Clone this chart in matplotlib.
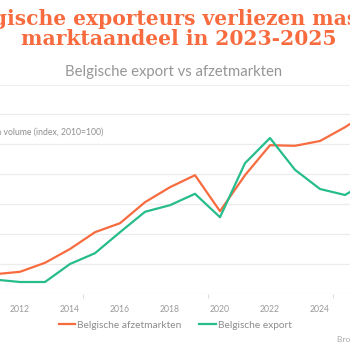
import matplotlib.pyplot as plt
from matplotlib.ticker import FixedLocator

# data (index, 2010=100)
years = [2010, 2011, 2012, 2013, 2014, 2015, 2016, 2017, 2018,
         2019, 2020, 2021, 2022, 2023, 2024, 2025, 2026]
afzetmarkten = [100, 103.3, 103.7, 105.2, 107.5, 110.3, 111.8, 115.3, 117.8,
                119.8, 113.8, 119.8, 124.8, 124.7, 125.5, 127.8, 130.5]
export = [100, 102.4, 102.0, 102.0, 105.0, 106.8, 110.3, 113.7, 114.8,
          116.7, 112.8, 121.8, 126.0, 120.7, 117.5, 116.5, 119.0]
xtick_years = [2010, 2012, 2014, 2016, 2018, 2020, 2022, 2024]
ygrid = [100, 105, 110, 115, 120, 125, 130]

ORANGE = "#F76B3F"
GREEN = "#27BC8C"
GREY = "#8c8c8c"

W, H = 350, 350
fig = plt.figure(figsize=(3.5, 3.5), dpi=100)

# axes extends past the left/right edges (the reference is a crop)
L, R, B, T = -40, 380, 294, 102
ax = fig.add_axes([L / W, 1 - B / H, (R - L) / W, (B - T) / H])
ax.set_xlim(2012 - (20 - L) / 25, 2012 + (R - 20) / 25)
ax.set_ylim(100, 132)

ax.plot(years, afzetmarkten, color=ORANGE, lw=1.6, label="Belgische afzetmarkten")
ax.plot(years, export, color=GREEN, lw=1.6, label="Belgische export")

for v in ygrid:
    ax.axhline(v, color="#ececec", lw=0.9, zorder=0)

for s in ax.spines.values():
    s.set_visible(False)
ax.set_yticks([])
ax.set_xticks(xtick_years)
ax.set_xticklabels([str(y) for y in xtick_years], family="Lato", fontsize=6.2, color="#9a9a9a")
ax.tick_params(axis="x", which="major", length=0, pad=8)
ax.xaxis.set_minor_locator(FixedLocator([2009.5, 2014.5, 2019.5, 2024.5]))
ax.tick_params(axis="x", which="minor", length=3, color="#dddddd", width=0.8)

ax.text(103 / W, 1 - 132 / H, "Groei in volume (index, 2010=100)", transform=fig.transFigure,
        ha="right", va="center", family="Lato", fontsize=6.2, color="#8f8f8f")

# titles
fig.text(179 / W, 1 - 19 / H, "Belgische exporteurs verliezen massaal", ha="center", va="center",
         family="DejaVu Serif", weight="bold", fontsize=14.6, color=ORANGE)
fig.text(179 / W, 1 - 39 / H, "marktaandeel in 2023-2025", ha="center", va="center",
         family="DejaVu Serif", weight="bold", fontsize=14.6, color=ORANGE)
fig.text(174 / W, 1 - 72 / H, "Belgische export vs afzetmarkten", ha="center", va="center",
         family="Lato", fontsize=10.7, color="#969696")
fig.add_artist(plt.Line2D([0, 1], [1 - 85 / H, 1 - 85 / H], transform=fig.transFigure,
                          color="#f0f0f0", lw=0.8))

fig.legend(loc="center", bbox_to_anchor=(175 / W, 1 - 325 / H), ncol=2, frameon=False,
           prop={"family": "Lato", "size": 7.3}, labelcolor=GREY, handlelength=1.6,
           handletextpad=0.2, columnspacing=1.8)

fig.text(337 / W, 1 - 339 / H, "Bron: NBB", ha="left", va="center",
         family="Lato", fontsize=6, color="#aaaaaa")

plt.savefig("out.png", dpi=100)
plt.close()
